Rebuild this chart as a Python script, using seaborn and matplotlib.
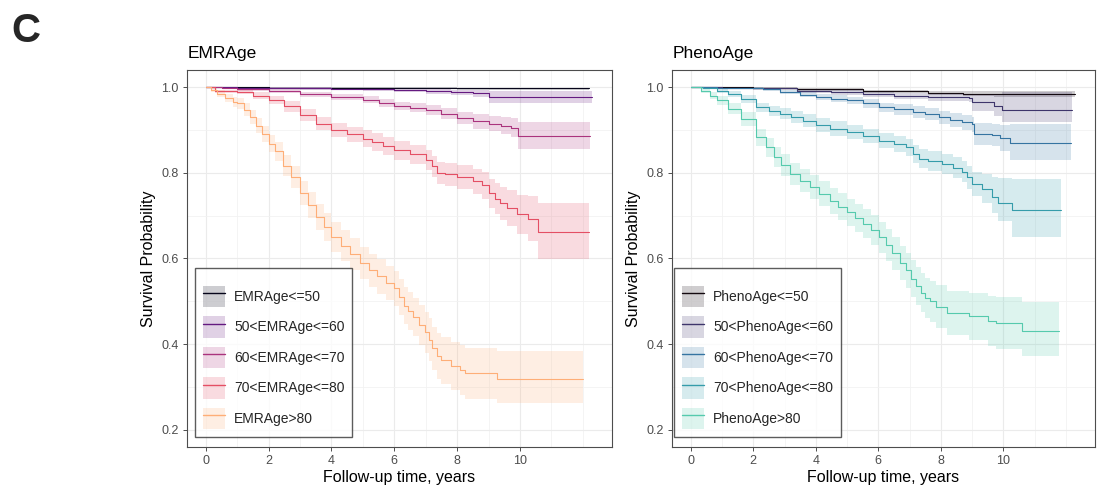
import numpy as np
import matplotlib
matplotlib.use("Agg")
import matplotlib.pyplot as plt
from matplotlib.patches import Patch
from matplotlib.lines import Line2D
import seaborn as sns

# ---------------- data: EMRAge panel ----------------
emr_labels = ["EMRAge<=50", "50<EMRAge<=60", "60<EMRAge<=70", "70<EMRAge<=80", "EMRAge>80"]

emr1_t = [0, 2, 5, 8, 12.2]
emr1_s = [1.0, 0.999, 0.998, 0.997, 0.997]
emr1_hi = [1.0, 1.0, 1.0, 0.999, 0.999]
emr1_lo = [1.0, 0.998, 0.996, 0.994, 0.994]

emr2_t = [0, 1, 2, 3, 4, 5, 6, 7, 7.8, 8.5, 9.0, 12.3]
emr2_s = [1.0, 0.999, 0.998, 0.997, 0.996, 0.995, 0.993, 0.99, 0.988, 0.986, 0.977, 0.977]
emr2_hi = [1.0, 1.0, 1.0, 1.0, 0.999, 0.998, 0.997, 0.995, 0.994, 0.993, 0.99, 0.99]
emr2_lo = [1.0, 0.998, 0.996, 0.994, 0.993, 0.991, 0.988, 0.984, 0.981, 0.977, 0.962, 0.962]

emr3_t = [0, 0.5, 1.0, 2.0, 3.0, 4.0, 5.0, 5.5, 6.0, 6.5, 7.0, 7.5, 8.0, 8.5, 9.0, 9.4, 9.7, 9.95, 12.23]
emr3_s = [1.0, 0.998, 0.995, 0.991, 0.983, 0.976, 0.971, 0.963, 0.956, 0.952, 0.946, 0.938, 0.928, 0.92, 0.915, 0.91, 0.905, 0.887, 0.887]
emr3_hi = [1.0, 1.0, 0.998, 0.995, 0.989, 0.983, 0.979, 0.972, 0.966, 0.963, 0.958, 0.951, 0.943, 0.937, 0.933, 0.93, 0.927, 0.919, 0.919]
emr3_lo = [1.0, 0.996, 0.992, 0.987, 0.977, 0.969, 0.963, 0.954, 0.946, 0.941, 0.934, 0.925, 0.913, 0.903, 0.897, 0.89, 0.883, 0.856, 0.856]

emr4_t = [0, 0.3, 1.0, 1.5, 2.0, 2.5, 3.0, 3.5, 4.0, 4.5, 5.0, 5.3, 5.65, 6.0, 6.5, 7.0, 7.2, 7.35, 7.6, 8.0,
          8.5, 8.8, 9.0, 9.2, 9.36, 9.6, 9.9, 10.27, 10.58, 12.2]
emr4_s = [1.0, 0.99, 0.989, 0.98, 0.97, 0.955, 0.935, 0.915, 0.90, 0.89, 0.88, 0.872, 0.862, 0.853, 0.843, 0.83, 0.815, 0.80, 0.797, 0.79,
          0.78, 0.771, 0.752, 0.74, 0.729, 0.717, 0.703, 0.693, 0.661, 0.661]
emr4_hi = [1.0, 0.994, 0.995, 0.988, 0.98, 0.967, 0.948, 0.93, 0.916, 0.908, 0.899, 0.892, 0.883, 0.875, 0.866, 0.854, 0.84, 0.826, 0.824, 0.818,
           0.81, 0.803, 0.786, 0.776, 0.767, 0.759, 0.749, 0.745, 0.73, 0.73]
emr4_lo = [1.0, 0.986, 0.983, 0.972, 0.96, 0.943, 0.922, 0.90, 0.884, 0.872, 0.861, 0.852, 0.841, 0.831, 0.82, 0.806, 0.79, 0.774, 0.77, 0.762,
           0.75, 0.739, 0.718, 0.704, 0.691, 0.675, 0.657, 0.641, 0.599, 0.599]

emr5_t = [0, 0.15, 0.35, 0.6, 0.85, 1.0, 1.2, 1.4, 1.6, 1.8, 2.0, 2.2, 2.45, 2.7, 3.0, 3.25, 3.5, 3.75, 4.0, 4.3,
          4.6, 4.9, 5.2, 5.45, 5.75, 6.0, 6.15, 6.3, 6.45, 6.6, 6.8, 6.97, 7.1, 7.2, 7.35, 7.5, 7.8, 8.1, 8.25, 9.27, 12.02]
emr5_s = [1.0, 0.993, 0.985, 0.975, 0.966, 0.962, 0.947, 0.93, 0.91, 0.89, 0.868, 0.85, 0.817, 0.79, 0.752, 0.725, 0.697, 0.673, 0.65, 0.63,
          0.61, 0.59, 0.572, 0.558, 0.543, 0.53, 0.51, 0.49, 0.478, 0.463, 0.445, 0.428, 0.41, 0.39, 0.372, 0.362, 0.348, 0.34, 0.332, 0.318, 0.318]
emr5_hi = [1.0, 0.998, 0.993, 0.985, 0.978, 0.975, 0.962, 0.946, 0.928, 0.909, 0.888, 0.872, 0.841, 0.816, 0.78, 0.755, 0.728, 0.706, 0.685, 0.666,
           0.647, 0.628, 0.611, 0.598, 0.583, 0.571, 0.552, 0.533, 0.522, 0.508, 0.492, 0.476, 0.46, 0.441, 0.425, 0.416, 0.404, 0.398, 0.391, 0.384, 0.384]
emr5_lo = [1.0, 0.988, 0.977, 0.965, 0.954, 0.949, 0.932, 0.914, 0.892, 0.871, 0.848, 0.828, 0.793, 0.764, 0.724, 0.695, 0.666, 0.64, 0.615, 0.594,
           0.573, 0.552, 0.533, 0.518, 0.503, 0.489, 0.468, 0.447, 0.434, 0.418, 0.398, 0.38, 0.36, 0.339, 0.319, 0.308, 0.292, 0.282, 0.273, 0.262, 0.262]

# ---------------- data: PhenoAge panel ----------------
pheno_labels = ["PhenoAge<=50", "50<PhenoAge<=60", "60<PhenoAge<=70", "70<PhenoAge<=80", "PhenoAge>80"]

ph1_t = [0, 2, 3.4, 5.5, 7.6, 8.7, 9.7, 12.3]
ph1_s = [1.0, 0.998, 0.995, 0.99, 0.987, 0.985, 0.984, 0.984]
ph1_hi = [1.0, 1.0, 0.998, 0.994, 0.992, 0.991, 0.99, 0.99]
ph1_lo = [1.0, 0.996, 0.992, 0.986, 0.982, 0.979, 0.977, 0.977]

ph2_t = [0, 1, 2, 3.4, 4.5, 5.5, 6.5, 7.6, 8.9, 9.0, 9.7, 9.95, 12.2]
ph2_s = [1.0, 0.999, 0.997, 0.992, 0.988, 0.984, 0.98, 0.977, 0.975, 0.965, 0.957, 0.947, 0.947]
ph2_hi = [1.0, 1.0, 0.999, 0.996, 0.993, 0.99, 0.987, 0.985, 0.984, 0.982, 0.985, 0.988, 0.988]
ph2_lo = [1.0, 0.997, 0.994, 0.987, 0.982, 0.977, 0.972, 0.968, 0.965, 0.945, 0.932, 0.918, 0.918]

ph3_t = [0, 0.85, 2.3, 2.86, 3.5, 4.0, 4.5, 5.0, 5.5, 6.03, 6.5, 7.1, 7.5, 7.94, 8.3, 8.68, 9.0, 9.05, 9.63, 9.9, 10.2, 12.17]
ph3_s = [1.0, 0.998, 0.995, 0.988, 0.982, 0.977, 0.973, 0.969, 0.962, 0.953, 0.948, 0.942, 0.937, 0.93, 0.924, 0.918, 0.913, 0.891, 0.888, 0.881, 0.87, 0.87]
ph3_hi = [1.0, 1.0, 0.998, 0.993, 0.988, 0.984, 0.981, 0.978, 0.972, 0.964, 0.96, 0.955, 0.951, 0.945, 0.94, 0.935, 0.931, 0.916, 0.914, 0.912, 0.914, 0.914]
ph3_lo = [1.0, 0.996, 0.992, 0.983, 0.976, 0.97, 0.965, 0.96, 0.952, 0.942, 0.936, 0.929, 0.923, 0.915, 0.908, 0.901, 0.895, 0.866, 0.862, 0.85, 0.829, 0.829]

ph4_t = [0, 0.4, 0.85, 1.2, 1.6, 2.1, 2.5, 2.86, 3.2, 3.6, 4.0, 4.44, 5.0, 5.5, 6.03, 6.5, 6.9, 7.1, 7.3, 7.6,
         8.04, 8.4, 8.68, 8.85, 9.0, 9.3, 9.63, 9.84, 10.26, 11.83]
ph4_s = [1.0, 0.997, 0.992, 0.983, 0.973, 0.953, 0.945, 0.938, 0.93, 0.922, 0.912, 0.903, 0.895, 0.886, 0.875, 0.867, 0.86, 0.845, 0.833, 0.828,
         0.821, 0.812, 0.803, 0.79, 0.774, 0.763, 0.743, 0.729, 0.714, 0.714]
ph4_hi = [1.0, 0.999, 0.997, 0.99, 0.982, 0.964, 0.957, 0.951, 0.944, 0.937, 0.928, 0.92, 0.911, 0.903, 0.893, 0.886, 0.88, 0.866, 0.855, 0.851,
          0.844, 0.836, 0.828, 0.817, 0.803, 0.797, 0.79, 0.787, 0.786, 0.786]
ph4_lo = [1.0, 0.995, 0.987, 0.976, 0.964, 0.942, 0.933, 0.925, 0.916, 0.907, 0.896, 0.886, 0.879, 0.869, 0.857, 0.848, 0.84, 0.824, 0.811, 0.805,
          0.798, 0.788, 0.778, 0.763, 0.745, 0.73, 0.706, 0.688, 0.65, 0.65]

ph5_t = [0, 0.32, 0.6, 0.85, 1.2, 1.6, 2.1, 2.4, 2.65, 2.9, 3.17, 3.5, 3.8, 4.1, 4.44, 4.7, 5.0, 5.25, 5.5, 5.75,
         6.03, 6.25, 6.45, 6.7, 6.88, 7.05, 7.2, 7.35, 7.5, 7.65, 7.83, 8.2, 8.9, 9.5, 9.75, 10.6, 11.77]
ph5_s = [1.0, 0.992, 0.98, 0.969, 0.95, 0.926, 0.883, 0.86, 0.837, 0.818, 0.798, 0.782, 0.767, 0.751, 0.735, 0.721, 0.708, 0.694, 0.681, 0.666,
         0.65, 0.632, 0.612, 0.59, 0.573, 0.553, 0.535, 0.52, 0.507, 0.5, 0.487, 0.473, 0.465, 0.454, 0.449, 0.431, 0.431]
ph5_hi = [1.0, 0.997, 0.988, 0.979, 0.963, 0.942, 0.903, 0.882, 0.86, 0.843, 0.824, 0.809, 0.795, 0.78, 0.765, 0.752, 0.74, 0.727, 0.715, 0.701,
          0.686, 0.669, 0.65, 0.63, 0.614, 0.596, 0.579, 0.565, 0.554, 0.548, 0.537, 0.525, 0.52, 0.512, 0.509, 0.499, 0.499]
ph5_lo = [1.0, 0.987, 0.972, 0.959, 0.937, 0.91, 0.863, 0.838, 0.814, 0.793, 0.772, 0.755, 0.739, 0.722, 0.705, 0.69, 0.676, 0.661, 0.647, 0.631,
          0.614, 0.595, 0.574, 0.55, 0.532, 0.51, 0.491, 0.475, 0.46, 0.452, 0.437, 0.421, 0.41, 0.396, 0.389, 0.372, 0.372]

x_ticks = [0, 2, 4, 6, 8, 10]
y_ticks = [0.2, 0.4, 0.6, 0.8, 1.0]

# ---------------- style ----------------
magma = sns.color_palette("magma", as_cmap=True)
mako = sns.color_palette("mako", as_cmap=True)
emr_colors = [magma(p) for p in [0.05, 0.3, 0.47, 0.62, 0.83]]
pheno_colors = [mako(p) for p in [0.03, 0.25, 0.48, 0.62, 0.78]]

sns.set_theme(style="white")
plt.rcParams["font.family"] = ["Liberation Sans", "DejaVu Sans"]

fig = plt.figure(figsize=(10.99, 4.90), dpi=100)
ax1 = fig.add_axes([187 / 1099, 1 - 447 / 490, 425 / 1099, 377 / 490])
ax2 = fig.add_axes([672 / 1099, 1 - 447 / 490, 423 / 1099, 377 / 490])

emr_series = [(emr1_t, emr1_s, emr1_lo, emr1_hi), (emr2_t, emr2_s, emr2_lo, emr2_hi),
              (emr3_t, emr3_s, emr3_lo, emr3_hi), (emr4_t, emr4_s, emr4_lo, emr4_hi),
              (emr5_t, emr5_s, emr5_lo, emr5_hi)]
ph_series = [(ph1_t, ph1_s, ph1_lo, ph1_hi), (ph2_t, ph2_s, ph2_lo, ph2_hi),
             (ph3_t, ph3_s, ph3_lo, ph3_hi), (ph4_t, ph4_s, ph4_lo, ph4_hi),
             (ph5_t, ph5_s, ph5_lo, ph5_hi)]


def draw_panel(ax, series, labels, colors, title, leg_x):
    handles = []
    for (t, s, lo, hi), lab, c in zip(series, labels, colors):
        ax.fill_between(t, lo, hi, step="post", color=c, alpha=0.2, lw=0, zorder=2)
        sns.lineplot(x=t, y=s, ax=ax, color=c, lw=0.8, drawstyle="steps-post",
                     sort=False, estimator=None, zorder=3)
        handles.append((Patch(facecolor=c, alpha=0.2, edgecolor="none"),
                        Line2D([], [], color=c, lw=1.0)))
    ax.set_xlim(-0.6, 12.93)
    ax.set_ylim(0.16, 1.04)
    ax.set_xticks(x_ticks)
    ax.set_xticklabels([str(v) for v in x_ticks])
    ax.set_yticks(y_ticks)
    ax.set_yticklabels([f"{v:.1f}" for v in y_ticks])
    ax.set_xticks(np.arange(0, 13, 1), minor=True)
    ax.set_yticks([0.3, 0.5, 0.7, 0.9], minor=True)
    ax.grid(True, which="major", color="#ebebeb", lw=0.8, zorder=0)
    ax.grid(True, which="minor", color="#f2f2f2", lw=0.6, zorder=0)
    ax.set_axisbelow(True)
    for sp in ax.spines.values():
        sp.set_color("#4d4d4d")
        sp.set_linewidth(0.8)
    ax.tick_params(axis="both", which="major", direction="out", length=3, width=0.7,
                   color="#4d4d4d", labelcolor="#4d4d4d", labelsize=9, pad=3,
                   bottom=True, left=True)
    ax.tick_params(axis="both", which="minor", length=0)
    ax.set_xlabel("Follow-up time, years", fontsize=11.5, color="black", labelpad=2)
    ax.set_ylabel("Survival Probability", fontsize=11.5, color="black", labelpad=4)
    ax.set_title(title, loc="left", fontsize=12.5, pad=9, color="black", x=0.002)
    leg = ax.legend(handles, labels, loc="lower left", bbox_to_anchor=(leg_x, 0.027),
                    frameon=True, fancybox=False, fontsize=10, handlelength=1.6,
                    handleheight=2.0, handletextpad=0.65, labelspacing=0.65,
                    borderpad=0.55, borderaxespad=0, title=" ", title_fontsize=1)
    fr = leg.get_frame()
    fr.set_edgecolor("#333333")
    fr.set_linewidth(1.0)
    fr.set_facecolor("white")
    leg.set_zorder(5)


draw_panel(ax1, emr_series, emr_labels, emr_colors, "EMRAge", 0.019)
draw_panel(ax2, ph_series, pheno_labels, pheno_colors, "PhenoAge", 0.005)

fig.text(0.010, 0.975, "C", fontsize=29, fontweight="bold", va="top", ha="left")

fig.savefig("out.png", dpi=100)
